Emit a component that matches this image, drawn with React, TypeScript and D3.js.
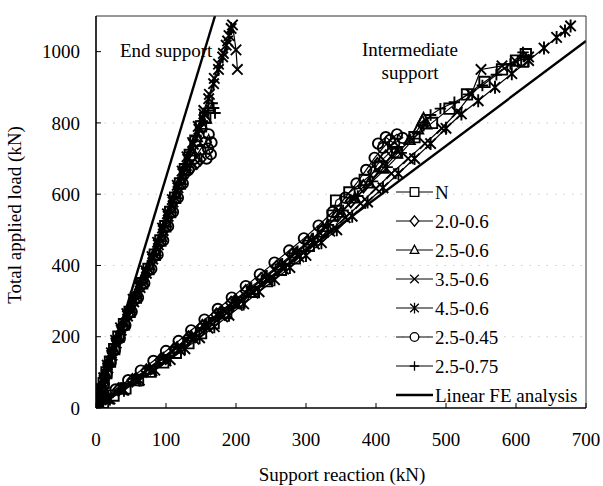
import React from "react";
import * as d3 from "d3";

type P = [number, number];

const SERIES_NAMES = ["N", "2.0-0.6", "2.5-0.6", "3.5-0.6", "4.5-0.6", "2.5-0.45", "2.5-0.75"];
const SERIES_MARKERS = ["square", "diamond", "triangle", "x", "asterisk", "circle", "plus"];
const FE_NAME = "Linear FE analysis";

const X_TICKS = [0, 100, 200, 300, 400, 500, 600, 700];
const Y_TICKS = [0, 200, 400, 600, 800, 1000];

// End support (reaction kN, load kN)
const N_END: P[] = [[0,0],[3,20],[6,40],[11,70],[15,100],[20,130],[26,165],[32,200],[40,235],[48,270],[57,310],[66,350],[75,390],[84,430],[92,470],[99,510],[106,550],[113,590],[120,630],[127,670],[134,710],[142,750],[150,790],[156,815]];
const D20_END: P[] = [[0,0],[4,25],[8,55],[13,85],[18,120],[24,155],[30,190],[38,225],[46,262],[55,300],[64,340],[73,380],[82,420],[90,460],[97,500],[104,540],[111,580],[118,620],[127,655],[136,675],[144,688],[149,698]];
const T25_END: P[] = [[0,0],[4,30],[9,60],[14,95],[19,130],[25,165],[31,200],[39,240],[48,280],[57,320],[66,360],[76,400],[85,440],[93,480],[100,520],[107,560],[114,600],[121,640],[128,680],[136,720],[144,760],[151,795],[157,812]];
const X35_END: P[] = [[0,0],[3,25],[7,55],[11,85],[16,120],[22,155],[28,190],[35,225],[44,265],[53,305],[62,345],[71,385],[80,425],[88,465],[95,505],[102,545],[109,585],[116,625],[123,665],[130,705],[138,745],[146,790],[154,835],[162,880],[169,925],[175,965],[182,995],[188,1030],[195,1075],[200,1005],[202,950]];
const S45_END: P[] = [[0,0],[4,22],[8,50],[12,80],[17,112],[23,148],[29,182],[36,218],[45,258],[54,298],[63,338],[72,378],[81,418],[89,458],[96,498],[103,538],[110,578],[117,618],[124,658],[131,698],[139,740],[147,782],[154,825],[161,868],[168,910],[175,950],[181,985],[186,1018],[190,1045],[193,1065]];
const C45_END: P[] = [[0,0],[5,30],[10,62],[15,95],[21,128],[27,162],[34,196],[42,232],[51,270],[60,310],[69,350],[79,390],[88,430],[96,470],[103,510],[110,550],[117,590],[124,630],[132,668],[141,700],[149,725],[156,745],[161,768],[165,745],[160,728],[164,712],[158,700]];
const P75_END: P[] = [[0,0],[3,28],[7,58],[12,90],[17,125],[23,160],[29,195],[37,232],[46,272],[55,312],[64,352],[73,392],[82,432],[90,472],[97,512],[104,552],[111,592],[118,632],[126,675],[134,718],[143,762],[152,805],[160,835],[166,855],[170,828],[168,842]];

// Intermediate support
const N_INT: P[] = [[0,0],[10,15],[25,35],[42,55],[60,78],[78,102],[96,128],[114,155],[132,182],[150,210],[168,238],[186,266],[205,296],[224,326],[244,356],[264,388],[284,420],[304,455],[324,495],[338,540],[343,582],[362,605],[384,640],[406,678],[430,718],[455,760],[480,800],[505,840],[530,880],[555,915],[580,950],[600,975],[614,993],[610,972]];
const D20_INT: P[] = [[0,0],[14,28],[32,52],[52,78],[72,105],[92,135],[112,166],[132,198],[152,230],[172,262],[193,295],[214,328],[236,362],[258,396],[280,430],[302,465],[324,500],[345,540],[364,580],[382,622],[396,662],[402,684],[414,706],[426,730]];
const T25_INT: P[] = [[0,0],[16,26],[36,52],[56,80],[76,108],[96,138],[116,168],[136,200],[156,232],[177,265],[198,298],[220,332],[242,366],[264,400],[286,434],[308,470],[330,508],[350,548],[370,588],[390,630],[410,672],[430,714],[448,752],[460,782],[466,805],[472,796],[468,812]];
const X35_INT: P[] = [[0,0],[18,25],[38,50],[58,76],[80,104],[100,132],[120,162],[140,193],[160,224],[181,256],[202,288],[224,322],[246,356],[268,390],[290,424],[312,460],[334,496],[356,534],[378,574],[400,616],[422,658],[446,700],[470,742],[494,785],[516,830],[536,880],[550,950],[580,960],[600,972],[618,985]];
const S45_INT: P[] = [[0,0],[20,25],[40,50],[62,78],[84,106],[106,136],[127,166],[148,197],[169,228],[190,260],[211,292],[233,326],[255,360],[277,394],[300,428],[322,464],[344,500],[366,538],[388,578],[410,618],[432,658],[455,700],[478,742],[500,785],[522,825],[546,862],[570,900],[594,938],[618,975],[640,1010],[658,1040],[670,1058],[678,1072]];
const C45_INT: P[] = [[0,0],[12,28],[28,52],[46,78],[64,105],[82,132],[100,160],[118,188],[136,218],[155,248],[174,278],[194,310],[214,342],[234,375],[255,408],[276,442],[297,476],[318,512],[338,550],[356,590],[372,630],[386,668],[398,702],[410,730],[420,752],[430,768],[438,758],[426,742],[414,760],[403,742]];
const P75_INT: P[] = [[0,0],[17,30],[36,55],[56,82],[76,110],[96,140],[116,171],[136,203],[157,236],[178,269],[200,303],[222,337],[244,371],[266,405],[288,440],[310,476],[332,514],[353,554],[374,595],[395,636],[416,676],[436,716],[454,756],[468,792],[478,822],[492,840],[512,858],[532,880],[552,905],[572,935],[592,965],[610,998]];

const FE_END: P[] = [[0, 0], [170, 1100]];
const FE_INT: P[] = [[0, 0], [700, 1030]];

const END_DATA = [N_END, D20_END, T25_END, X35_END, S45_END, C45_END, P75_END];
const INT_DATA = [N_INT, D20_INT, T25_INT, X35_INT, S45_INT, C45_INT, P75_INT];

const W = 603, H = 486;
const L = 96, R = 586, T = 16, B = 408;
const FONT = "'Liberation Serif', 'Times New Roman', Times, serif";

function markerPath(type: string, s: number): string {
  switch (type) {
    case "square": return `M${-s},${-s}h${2 * s}v${2 * s}h${-2 * s}Z`;
    case "diamond": return `M0,${-s * 1.2}L${s},0L0,${s * 1.2}L${-s},0Z`;
    case "triangle": return `M0,${-s * 1.1}L${s},${s * 0.8}L${-s},${s * 0.8}Z`;
    case "x": return `M${-s},${-s}L${s},${s}M${-s},${s}L${s},${-s}`;
    case "asterisk": return `M${-s},${-s}L${s},${s}M${-s},${s}L${s},${-s}M0,${-s * 1.25}L0,${s * 1.25}`;
    case "circle": return `M${s},0A${s},${s} 0 1,1 ${-s},0A${s},${s} 0 1,1 ${s},0Z`;
    case "plus": return `M${-s * 1.1},0L${s * 1.1},0M0,${-s * 1.1}L0,${s * 1.1}`;
  }
  return "";
}

export default function App() {
  const x = d3.scaleLinear().domain([0, 700]).range([L, R]);
  const y = d3.scaleLinear().domain([0, 1100]).range([B, T]);
  const line = d3.line<P>().x(d => x(d[0])).y(d => y(d[1]));

  const legendY = (i: number) => 192 + i * 29;
  const txt = { fontFamily: FONT, fontSize: 19 };

  return (
    <svg width={W} height={H} style={{ position: "absolute", left: 0, top: 0, background: "#fff" }}>
      <defs>
        <clipPath id="plot"><rect x={L} y={T} width={R - L} height={B - T} /></clipPath>
      </defs>
      <rect x={0} y={0} width={W} height={H} fill="#fff" />
      {Y_TICKS.filter(t => t > 0 && t < 1000).map(t => (
        <line key={"g" + t} x1={L} x2={R} y1={y(t)} y2={y(t)} stroke="#bbb" strokeWidth={0.8} strokeDasharray="1.5,7" />
      ))}
      <g clipPath="url(#plot)">
        {[END_DATA, INT_DATA].map((group, gi) => group.map((data, si) => (
          <g key={`s${gi}-${si}`}>
            <path d={line(data) || ""} fill="none" stroke="#000" strokeWidth={1.2} />
            {data.map((d, k) => (
              <path key={k} transform={`translate(${x(d[0])},${y(d[1])})`} d={markerPath(SERIES_MARKERS[si], 5.2)} fill="none" stroke="#000" strokeWidth={1.9} />
            ))}
          </g>
        )))}
        <path d={line(FE_END) || ""} fill="none" stroke="#000" strokeWidth={2.4} />
        <path d={line(FE_INT) || ""} fill="none" stroke="#000" strokeWidth={2.4} />
      </g>
      <line x1={L} x2={R} y1={T} y2={T} stroke="#333" strokeWidth={1} />
      <line x1={R} x2={R} y1={T} y2={B} stroke="#333" strokeWidth={1} />
      <line x1={L} x2={L} y1={T} y2={B} stroke="#000" strokeWidth={1.6} />
      <line x1={L} x2={R} y1={B} y2={B} stroke="#000" strokeWidth={1.6} />
      {Y_TICKS.map(t => (
        <g key={"y" + t}>
          <line x1={L} x2={L + 5} y1={y(t)} y2={y(t)} stroke="#000" strokeWidth={1} />
          <text x={80} y={y(t)} dy="0.35em" textAnchor="end" style={txt}>{t}</text>
        </g>
      ))}
      {X_TICKS.map(t => (
        <g key={"x" + t}>
          <line x1={x(t)} x2={x(t)} y1={B} y2={B - 5} stroke="#000" strokeWidth={1} />
          <text x={x(t)} y={446} textAnchor="middle" style={txt}>{t}</text>
        </g>
      ))}
      <text x={342} y={481} textAnchor="middle" style={txt}>Support reaction (kN)</text>
      <text transform={`translate(21,215) rotate(-90)`} textAnchor="middle" style={txt}>Total applied load (kN)</text>
      <text x={120} y={57} style={txt}>End support</text>
      <text x={410} y={56} textAnchor="middle" style={txt}>Intermediate</text>
      <text x={410} y={79} textAnchor="middle" style={txt}>support</text>
      {SERIES_NAMES.map((n, i) => (
        <g key={"l" + i}>
          <line x1={396} x2={433} y1={legendY(i)} y2={legendY(i)} stroke="#000" strokeWidth={1} />
          <path transform={`translate(414.5,${legendY(i)})`} d={markerPath(SERIES_MARKERS[i], 4.3)} fill="#fff" stroke="#000" strokeWidth={1.3} />
          <text x={435} y={legendY(i)} dy="0.35em" style={txt}>{n}</text>
        </g>
      ))}
      <line x1={396} x2={433} y1={legendY(7)} y2={legendY(7)} stroke="#000" strokeWidth={2.6} />
      <text x={435} y={legendY(7)} dy="0.35em" style={txt}>{FE_NAME}</text>
    </svg>
  );
}
